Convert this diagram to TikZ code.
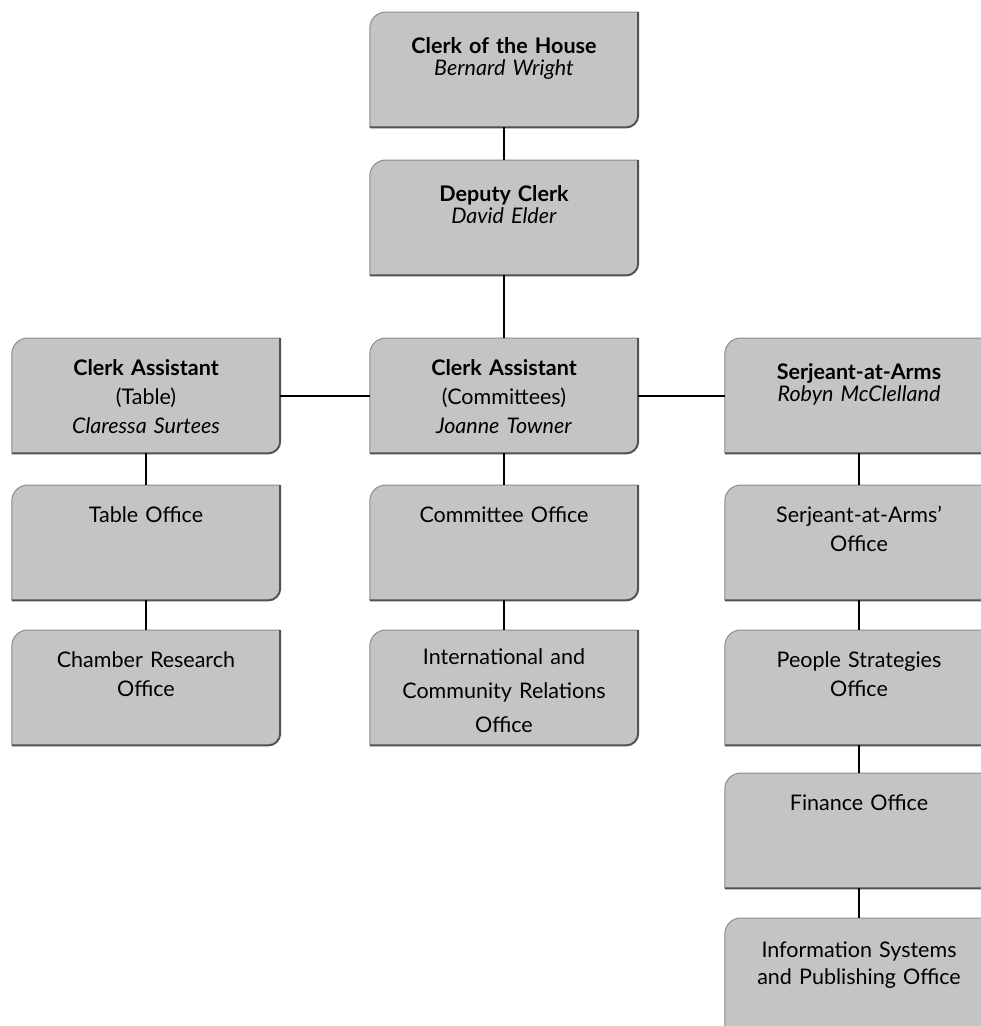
\documentclass[tikz,border=0pt]{standalone}
\usepackage{fontspec}
\setmainfont{Lato}
\usetikzlibrary{backgrounds}
\tikzset{
  orgbox/.style={rectangle, inner sep=0pt, minimum width=268pt, text width=262pt,
    align=center, text height=37pt, text depth=78pt,
    font=\fontsize{21.5}{29}\selectfont},
  tight/.style={font=\fontsize{21.5}{22}\selectfont, text height=41pt, text depth=74pt},
  wide/.style={font=\fontsize{21.5}{34}\selectfont, text height=34pt, text depth=81pt},
  narrow/.style={font=\fontsize{21.5}{27}\selectfont, text height=39pt, text depth=76pt},
  conn/.style={line width=2.2pt, draw=black},
  boxfill/.style={fill=black!23},
  boxedge/.style={draw=black!45, line width=1pt},
  boxshade/.style={draw=black!68, line width=2pt},
}
\newcommand\orgshape[1]{%
  \path[boxfill] (#1.south west) -- ([yshift=-16pt]#1.north west)
    arc[start angle=180,end angle=90,radius=16pt] -- (#1.north east)
    -- ([yshift=12pt]#1.south east) arc[start angle=0,end angle=-90,radius=12pt] -- cycle;
  \draw[boxedge] (#1.south west) -- ([yshift=-16pt]#1.north west)
    arc[start angle=180,end angle=90,radius=16pt] -- (#1.north east);
  \draw[boxshade] (#1.north east) -- ([yshift=12pt]#1.south east)
    arc[start angle=0,end angle=-90,radius=12pt] -- (#1.south west);
}
\begin{document}
\begin{tikzpicture}[x=1pt,y=-1pt]
\useasboundingbox (0,0) rectangle (981,1026);

% top
\node[orgbox,tight,anchor=north] (house) at (504,12) {\textbf{Clerk of the House}\\\textit{Bernard Wright}};
\node[orgbox,tight,anchor=north] (deputy) at (504,160) {\textbf{Deputy Clerk}\\\textit{David Elder}};
% row 3
\node[orgbox,anchor=north] (catable) at (146,338) {\textbf{Clerk Assistant}\\(Table)\\\textit{Claressa Surtees}};
\node[orgbox,anchor=north] (cacomm) at (504,338) {\textbf{Clerk Assistant}\\(Committees)\\\textit{Joanne Towner}};
\node[orgbox,tight,anchor=north] (saa) at (859,338) {\textbf{Serjeant-at-Arms}\\\textit{Robyn McClelland}};
% row 4
\node[orgbox,anchor=north] (tableoff) at (146,485) {Table Office};
\node[orgbox,anchor=north] (committee) at (504,485) {Committee Office};
\node[orgbox,anchor=north] (saaoff) at (859,485) {Serjeant-at-Arms'\\Office};
% row 5
\node[orgbox,anchor=north] (chamber) at (146,630) {Chamber Research\\Office};
\node[orgbox,wide,anchor=north] (intl) at (504,630) {International and\\Community Relations\\Office};
\node[orgbox,anchor=north] (people) at (859,630) {People Strategies\\Office};
% right column lower
\node[orgbox,anchor=north] (finance) at (859,773) {Finance Office};
\node[orgbox,narrow,anchor=north] (info) at (859,918) {Information Systems\\and Publishing Office};

\begin{scope}[on background layer]
\fill[white] (0,0) rectangle (981,1026);
\clip (0,0) rectangle (981,1026);
\foreach \n in {house,deputy,catable,cacomm,saa,tableoff,committee,saaoff,chamber,intl,people,finance,info}{\orgshape{\n}}
\end{scope}

\draw[conn] (house) -- (deputy);
\draw[conn] (deputy) -- (cacomm);
\draw[conn] (catable) -- (cacomm);
\draw[conn] (cacomm) -- (saa);
\draw[conn] (catable) -- (tableoff);
\draw[conn] (tableoff) -- (chamber);
\draw[conn] (cacomm) -- (committee);
\draw[conn] (committee) -- (intl);
\draw[conn] (saa) -- (saaoff);
\draw[conn] (saaoff) -- (people);
\draw[conn] (people) -- (finance);
\draw[conn] (finance) -- (info);
\end{tikzpicture}
\end{document}
